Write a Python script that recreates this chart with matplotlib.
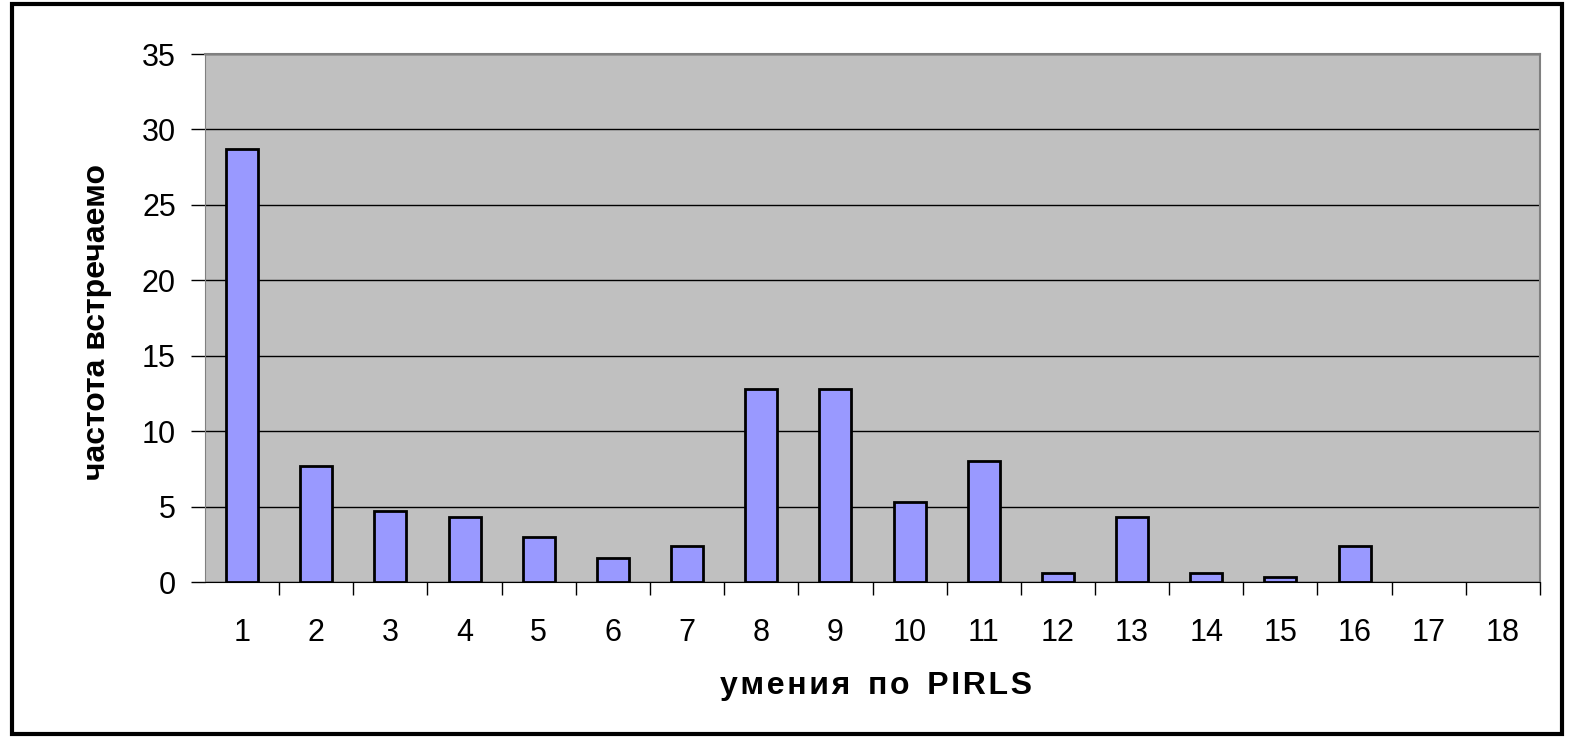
import numpy as np
import matplotlib.pyplot as plt
from matplotlib.patches import Rectangle

# skills (PIRLS) and how often they occur
categories = [str(i) for i in range(1, 19)]
values = [28.7, 7.7, 4.7, 4.3, 3.0, 1.6, 2.4, 12.8, 12.8, 5.3, 8.0, 0.6, 4.3, 0.6, 0.3, 2.4, 0, 0]
yticks = [0, 5, 10, 15, 20, 25, 30, 35]

plt.rcParams['font.family'] = ['Liberation Sans', 'DejaVu Sans']

W, H = 1569, 738
fig = plt.figure(figsize=(W / 100, H / 100), dpi=100)
ax = fig.add_axes([205 / W, 1 - 582 / H, (1540 - 205) / W, (582 - 54) / H])

x = np.arange(len(categories))
ax.set_facecolor('#C0C0C0')
# empty categories get no outline
lw = [2 if v > 0 else 0 for v in values]
ax.bar(x, values, width=0.43, color='#9999FF', edgecolor='black', linewidth=lw, zorder=3)

ax.set_xlim(-0.5, len(categories) - 0.5)
ax.set_ylim(0, 35)
ax.set_yticks(yticks)
ax.set_yticklabels([str(t) for t in yticks], fontsize=22)
ax.yaxis.grid(True, color='black', linewidth=1)
ax.set_axisbelow(True)

# tick marks between categories, labels at category centres
ax.set_xticks(x + 0.5, minor=False)
ax.set_xticklabels([])
ax.set_xticks(x, minor=True)
ax.set_xticklabels(categories, minor=True, fontsize=22)
ax.tick_params(axis='x', which='major', length=9, width=1, color='black', direction='out')
ax.tick_params(axis='x', which='minor', length=0, pad=26)
ax.tick_params(axis='y', length=10, width=1, color='black', pad=11)

for side in ['top', 'right']:
    ax.spines[side].set_color('#808080')
    ax.spines[side].set_linewidth(1.5)
ax.spines['left'].set_color('#808080')
ax.spines['bottom'].set_color('black')

fig.text(97 / W, 1 - 322 / H, 'частота встречаемо', rotation=90, fontsize=23,
         fontweight='bold', ha='center', va='center')
xlab = '  '.join('\u200a'.join(w) for w in ['умения', 'по', 'PIRLS'])
fig.text(876 / W, 1 - 686 / H, xlab, fontsize=23,
         fontweight='bold', ha='center', va='center')

# outer frame of the chart
fig.patches.append(Rectangle((12 / W, 4 / H), (1562 - 12) / W, (734 - 4) / H,
                             transform=fig.transFigure, fill=False, edgecolor='black', linewidth=3))

fig.savefig('out.png', dpi=100)
